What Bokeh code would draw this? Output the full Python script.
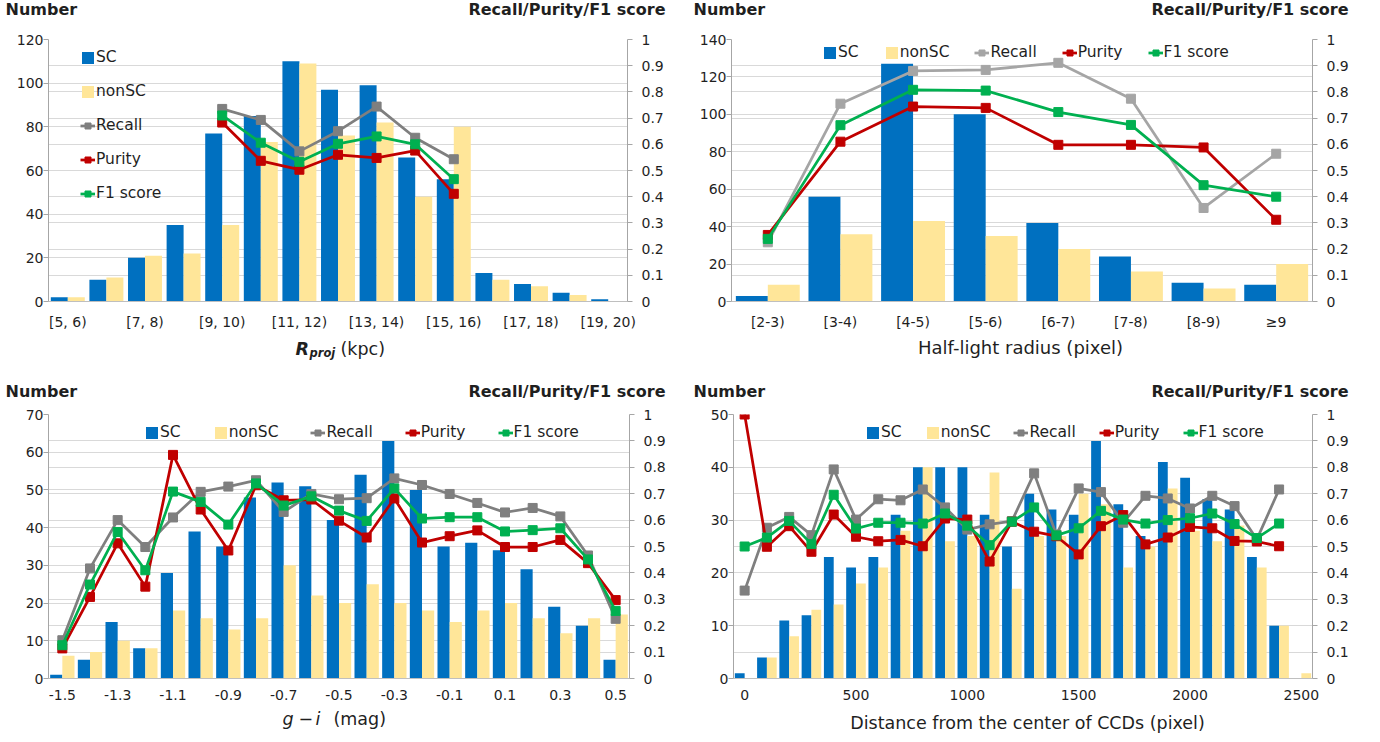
import numpy as np
from bokeh.plotting import figure
from bokeh.models import (Range1d, LinearAxis, Grid, FixedTicker, Legend, LegendItem,
                          PrintfTickFormatter, ColumnDataSource)
from bokeh.layouts import column, row
from bokeh.transform import dodge
from bokeh.core.properties import value
from bokeh.embed import file_html
from bokeh.resources import INLINE

# ---------------- data ----------------
# Panel 1: projected radius
r_bins = ["[5, 6)", "[6, 7)", "[7, 8)", "[8, 9)", "[9, 10)", "[10, 11)", "[11, 12)",
          "[12, 13)", "[13, 14)", "[14, 15)", "[15, 16)", "[16, 17)", "[17, 18)",
          "[18, 19)", "[19, 20)"]
r_sc = [2, 10, 20, 35, 77, 85, 110, 97, 99, 66, 56, 13, 8, 4, 1]
r_nonsc = [2, 11, 21, 22, 35, 73, 109, 76, 82, 48, 80, 10, 7, 3, 0]
r_recall = [None, None, None, None, 0.735, 0.693, 0.573, 0.650, 0.744, 0.625, 0.543, None, None, None, None]
r_purity = [None, None, None, None, 0.683, 0.537, 0.503, 0.560, 0.548, 0.576, 0.411, None, None, None, None]
r_f1 = [None, None, None, None, 0.710, 0.606, 0.533, 0.602, 0.630, 0.600, 0.467, None, None, None, None]
r_tick_labels = ["[5, 6)", "[7, 8)", "[9, 10)", "[11, 12)", "[13, 14)", "[15, 16)", "[17, 18)", "[19, 20)"]

# Panel 2: half-light radius
hl_bins = ["[2-3)", "[3-4)", "[4-5)", "[5-6)", "[6-7)", "[7-8)", "[8-9)", "≥9"]
hl_sc = [3, 56, 127, 100, 42, 24, 10, 9]
hl_nonsc = [9, 36, 43, 35, 28, 16, 7, 20]
hl_recall = [0.226, 0.755, 0.880, 0.884, 0.911, 0.774, 0.357, 0.564]
hl_purity = [0.254, 0.610, 0.744, 0.739, 0.598, 0.598, 0.588, 0.312]
hl_f1 = [0.239, 0.673, 0.808, 0.805, 0.723, 0.674, 0.444, 0.400]

# Panel 3: g - i colour
gi = [-1.5, -1.4, -1.3, -1.2, -1.1, -1.0, -0.9, -0.8, -0.7, -0.6, -0.5, -0.4, -0.3,
      -0.2, -0.1, 0.0, 0.1, 0.2, 0.3, 0.4, 0.5]
gi_sc = [1, 5, 15, 8, 28, 39, 35, 48, 52, 51, 42, 54, 63, 50, 35, 36, 34, 29, 19, 14, 5]
gi_nonsc = [6, 7, 10, 8, 18, 16, 13, 16, 30, 22, 20, 25, 20, 18, 15, 18, 20, 16, 12, 16, 17]
gi_recall = [0.145, 0.417, 0.600, 0.498, 0.610, 0.707, 0.727, 0.751, 0.631, 0.699, 0.679,
             0.683, 0.758, 0.733, 0.699, 0.665, 0.629, 0.646, 0.614, 0.466, 0.226]
gi_purity = [0.114, 0.309, 0.512, 0.348, 0.847, 0.640, 0.485, 0.732, 0.675, 0.678, 0.598,
             0.534, 0.682, 0.515, 0.539, 0.561, 0.498, 0.498, 0.525, 0.437, 0.297]
gi_f1 = [0.126, 0.356, 0.555, 0.410, 0.708, 0.669, 0.583, 0.739, 0.655, 0.690, 0.636,
         0.597, 0.720, 0.606, 0.611, 0.611, 0.557, 0.562, 0.569, 0.451, 0.256]
gi_ticks = [-1.5, -1.3, -1.1, -0.9, -0.7, -0.5, -0.3, -0.1, 0.1, 0.3, 0.5]

# Panel 4: distance from CCD centre
dist = [0, 100, 200, 300, 400, 500, 600, 700, 800, 900, 1000, 1100, 1200, 1300,
        1400, 1500, 1600, 1700, 1800, 1900, 2000, 2100, 2200, 2300, 2400, 2500]
d_sc = [1, 4, 11, 12, 23, 21, 23, 31, 40, 40, 40, 31, 25, 35, 32, 31, 45, 33, 27, 41,
        38, 34, 32, 23, 10, 0]
d_nonsc = [0, 4, 8, 13, 14, 18, 21, 28, 40, 26, 27, 39, 17, 27, 27, 35, 33, 21, 25, 36,
           28, 26, 29, 21, 10, 1]
d_recall = [0.333, 0.571, 0.612, 0.543, 0.792, 0.602, 0.679, 0.675, 0.716, 0.648, 0.564,
            0.584, 0.596, 0.777, 0.545, 0.720, 0.706, 0.590, 0.692, 0.682, 0.644, 0.692,
            0.653, 0.527, 0.716, None]
d_purity = [1.000, 0.499, 0.577, 0.480, 0.621, 0.537, 0.520, 0.525, 0.501, 0.606, 0.602,
            0.443, 0.594, 0.556, 0.539, 0.470, 0.577, 0.619, 0.508, 0.534, 0.574, 0.569,
            0.521, 0.519, 0.501, None]
d_f1 = [0.500, 0.534, 0.597, 0.509, 0.696, 0.568, 0.590, 0.590, 0.587, 0.625, 0.579,
        0.505, 0.594, 0.648, 0.542, 0.569, 0.635, 0.602, 0.587, 0.600, 0.607, 0.625,
        0.585, 0.532, 0.587, None]
d_ticks = [0, 500, 1000, 1500, 2000, 2500]

score_ticks = [0, 0.1, 0.2, 0.3, 0.4, 0.5, 0.6, 0.7, 0.8, 0.9, 1]

# ---------------- style ----------------
FONT = "DejaVu Sans"
TXT = "#1F1F1F"
C_SC = "#0070C0"
C_NON = "#FFE699"
C_REC = "#7F7F7F"
C_REC_LIGHT = "#A5A5A5"
C_PUR = "#C00000"
C_F1 = "#00B050"
GRID = "#D9D9D9"
AXIS = "#A6A6A6"
TICK_SIZE = "14px"
WL, WR = 690, 688
WT = WL + WR


def style_axis(ax):
    ax.major_label_text_font = FONT
    ax.major_label_text_font_size = TICK_SIZE
    ax.major_label_text_color = TXT
    ax.minor_tick_line_color = None
    ax.axis_line_color = AXIS
    ax.major_tick_line_color = AXIS
    ax.major_tick_in = 0
    ax.major_tick_out = 5


def panel(x, sc, nonsc, recall, purity, f1, *, width, xr, bin_w, ymax, ystep, xticks,
          overrides=None, formatter=None, borders, frame_h, xstandoff, rec_color,
          orient, loc, spacing):
    left, right, top, bottom = borders
    p = figure(width=width, height=top + frame_h + bottom, output_backend="svg",
               toolbar_location=None, tools="",
               x_range=Range1d(*xr), y_range=Range1d(0, ymax),
               min_border_left=left, min_border_right=right,
               min_border_top=top, min_border_bottom=bottom)
    p.outline_line_color = None
    p.background_fill_color = "white"
    p.border_fill_color = "white"
    p.extra_y_ranges = {"r": Range1d(0, 1)}

    src = ColumnDataSource(dict(
        x=x, sc=sc, nonsc=nonsc,
        recall=np.array(recall, dtype=float),
        purity=np.array(purity, dtype=float),
        f1=np.array(f1, dtype=float)))

    bw = 0.44 * bin_w
    b_sc = p.vbar(x=dodge("x", -bw / 2), top="sc", width=bw, source=src,
                  fill_color=C_SC, line_color=None)
    b_non = p.vbar(x=dodge("x", bw / 2), top="nonsc", width=bw, source=src,
                   fill_color=C_NON, line_color=None)

    rends = []
    for col, colr in (("recall", rec_color), ("purity", C_PUR), ("f1", C_F1)):
        ln = p.line("x", col, source=src, y_range_name="r", line_color=colr,
                    line_width=2.75, line_join="round")
        sq = p.scatter("x", col, source=src, y_range_name="r", marker="square",
                       size=9, fill_color=colr, line_color=colr)
        rends.append([ln, sq])

    p.xgrid.visible = False
    yl = p.yaxis[0]
    yl.ticker = FixedTicker(ticks=list(range(0, ymax + 1, ystep)))
    style_axis(yl)
    yl.major_label_standoff = 0
    p.ygrid.grid_line_color = GRID
    p.ygrid.grid_line_width = 1

    ra = LinearAxis(y_range_name="r", ticker=FixedTicker(ticks=score_ticks),
                    formatter=PrintfTickFormatter(format="%g"))
    style_axis(ra)
    ra.major_label_standoff = 9
    ra.major_label_text_align = "left"
    p.add_layout(ra, "right")
    p.add_layout(Grid(dimension=1, ticker=FixedTicker(ticks=score_ticks),
                      y_range_name="r", grid_line_color=GRID, grid_line_width=1))

    xa = p.xaxis[0]
    xa.ticker = FixedTicker(ticks=xticks)
    if overrides is not None:
        xa.major_label_overrides = overrides
    if formatter is not None:
        xa.formatter = formatter
    style_axis(xa)
    xa.axis_line_color = "#BFBFBF"
    xa.major_tick_line_color = None
    xa.major_tick_out = 0
    xa.major_label_standoff = xstandoff

    legend = Legend(items=[
        LegendItem(label="SC", renderers=[b_sc]),
        LegendItem(label="nonSC", renderers=[b_non]),
        LegendItem(label="Recall", renderers=rends[0]),
        LegendItem(label="Purity", renderers=rends[1]),
        LegendItem(label="F1 score", renderers=rends[2]),
    ], orientation=orient, location=loc, spacing=spacing, padding=0, margin=0,
        glyph_width=15, glyph_height=15, label_height=24, label_standoff=1,
        label_text_font=FONT, label_text_font_size="15.5px", label_text_color=TXT,
        background_fill_alpha=0, border_line_alpha=0)
    p.add_layout(legend)
    return p


def strip(h):
    """A full-width text-only strip (header or footer) whose data units are pixels."""
    s = figure(width=WT, height=h, output_backend="svg", toolbar_location=None, tools="",
               x_range=Range1d(0, WT), y_range=Range1d(0, h),
               x_axis_type=None, y_axis_type=None,
               min_border_left=0, min_border_right=0, min_border_top=0, min_border_bottom=0)
    s.outline_line_color = None
    s.grid.visible = False
    s.background_fill_color = "white"
    s.border_fill_color = "white"
    return s


def txt(s, x, y, text, size="17.5px", style="normal", align="left"):
    s.text(x=[x], y=[y], text=[text], text_font=value(FONT), text_font_size=value(size),
           text_font_style=style, text_color=TXT, text_align=align,
           text_baseline="alphabetic")


# ---------------- panels ----------------
r_idx = list(range(len(r_bins)))
p1 = panel(r_idx, r_sc, r_nonsc, r_recall, r_purity, r_f1, width=WL,
           xr=(-0.5, len(r_bins) - 0.5), bin_w=1, ymax=120, ystep=20,
           xticks=[r_bins.index(t) for t in r_tick_labels],
           overrides={r_bins.index(t): t for t in r_tick_labels},
           borders=(48, 63, 11, 35), frame_h=262, xstandoff=12, rec_color=C_REC,
           orient="vertical", loc=(32, 96), spacing=10)

hl_idx = list(range(len(hl_bins)))
p2 = panel(hl_idx, hl_sc, hl_nonsc, hl_recall, hl_purity, hl_f1, width=WR,
           xr=(-0.5, len(hl_bins) - 0.5), bin_w=1, ymax=140, ystep=20,
           xticks=hl_idx, overrides={i: b for i, b in enumerate(hl_bins)},
           borders=(41, 66, 11, 35), frame_h=262, xstandoff=12, rec_color=C_REC_LIGHT,
           orient="horizontal", loc=(91, 237), spacing=25)

p3 = panel(gi, gi_sc, gi_nonsc, gi_recall, gi_purity, gi_f1, width=WL,
           xr=(-1.55, 0.55), bin_w=0.1, ymax=70, ystep=10,
           xticks=gi_ticks, formatter=PrintfTickFormatter(format="%g"),
           borders=(48, 61, 11, 29), frame_h=264, xstandoff=11, rec_color=C_REC,
           orient="horizontal", loc=(96, 234), spacing=32)

p4 = panel(dist, d_sc, d_nonsc, d_recall, d_purity, d_f1, width=WR,
           xr=(-50, 2550), bin_w=100, ymax=50, ystep=10,
           xticks=d_ticks, borders=(43, 66, 11, 29), frame_h=264, xstandoff=11,
           rec_color=C_REC, orient="horizontal", loc=(132, 234), spacing=23)

# headers: "Number" (left axis) and "Recall/Purity/F1 score" (right axis), both panels
head1, head2 = strip(28), strip(32)
for s, yb in ((head1, 19), (head2, 12)):
    for xl, xr_ in ((5, 665), (WL + 3, WL + 658)):
        txt(s, xl, yb, "Number", size="16px", style="bold")
        txt(s, xr_, yb, "Recall/Purity/F1 score", size="16px", style="bold", align="right")

# footers: x-axis titles
foot1, foot2 = strip(35), strip(33)
txt(foot1, 295, 23, "R", style="bold italic")
txt(foot1, 309, 19, "proj", size="11.5px", style="bold italic")
txt(foot1, 340, 23, "(kpc)")
txt(foot1, WL + 330, 24, "Half-light radius (pixel)", size="18px", align="center")
txt(foot2, 282, 22, "g", style="italic")
txt(foot2, 298, 22, "−")
txt(foot2, 315, 22, "i", style="italic")
txt(foot2, 333, 22, "(mag)")
txt(foot2, WL + 337, 18, "Distance from the center of CCDs (pixel)", align="center")

layout = column(head1, row(p1, p2), foot1, head2, row(p3, p4), foot2)
open("out.html", "w").write(file_html(layout, INLINE))
